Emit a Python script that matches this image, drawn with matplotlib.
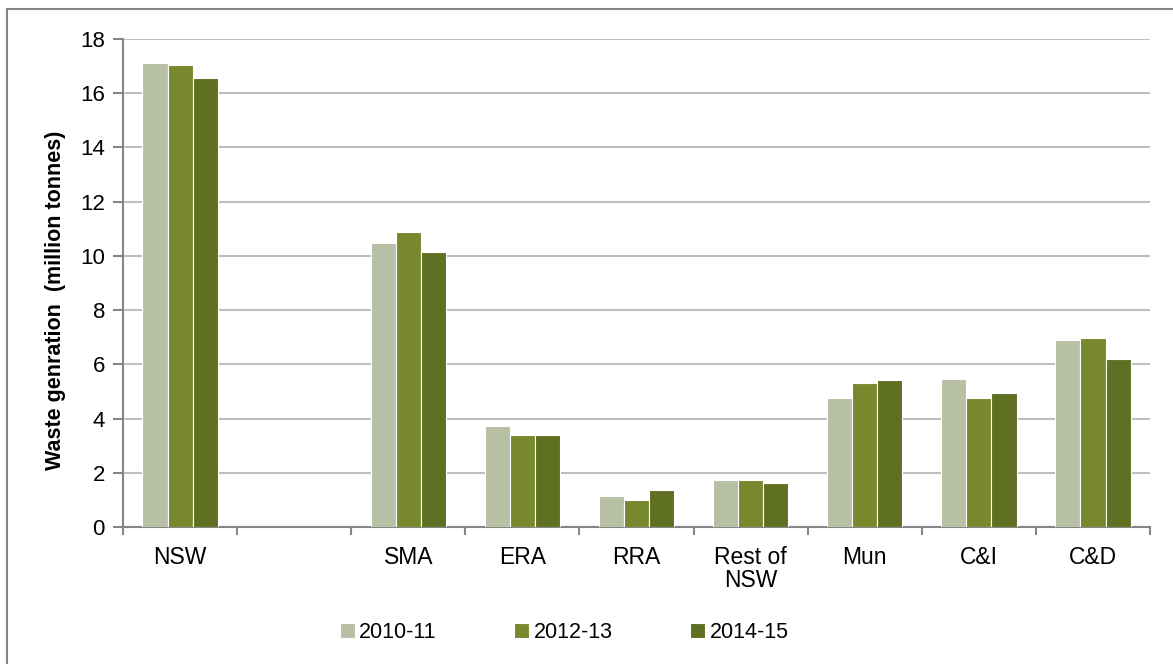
import numpy as np
import matplotlib.pyplot as plt
from matplotlib.patches import Rectangle

plt.rcParams['font.family'] = ['Liberation Sans', 'DejaVu Sans']

# waste generation by region / stream, million tonnes
categories = ['NSW', '', 'SMA', 'ERA', 'RRA', 'Rest of\nNSW', 'Mun', 'C&I', 'C&D']
years = ['2010-11', '2012-13', '2014-15']
gen_2010_11 = [17.10, np.nan, 10.46, 3.73, 1.14, 1.73, 4.75, 5.45, 6.90]
gen_2012_13 = [17.04, np.nan, 10.88, 3.39, 0.98, 1.75, 5.31, 4.75, 6.98]
gen_2014_15 = [16.55, np.nan, 10.16, 3.38, 1.35, 1.62, 5.41, 4.94, 6.19]
colors = ['#B7BFA4', '#77892C', '#607022']

fig = plt.figure(figsize=(11.73, 6.64), dpi=100)
ax = fig.add_axes([0.1049, 0.2063, 0.8755, 0.735])

x = np.arange(len(categories))
w = 0.22
for i, (vals, c, lab) in enumerate(zip([gen_2010_11, gen_2012_13, gen_2014_15], colors, years)):
    ax.bar(x + (i - 1) * w, vals, width=w, color=c, edgecolor='white',
           linewidth=0.8, label=lab, zorder=3)

ax.set_xlim(-0.5, len(categories) - 0.5)
ax.set_ylim(0, 18)
ax.set_yticks(np.arange(0, 19, 2))
ax.grid(axis='y', color='#BFBFBF', linewidth=1.5, zorder=0)

# labels at centres, tick marks at the category boundaries
ax.set_xticks(x)
ax.set_xticklabels(categories, fontsize=16.5, linespacing=0.95)
ax.set_xticks(np.arange(-0.5, len(categories)), minor=True)
ax.tick_params(axis='x', which='major', length=0, pad=14)
ax.tick_params(axis='x', which='minor', length=6, color='#868686', width=1.5)
ax.tick_params(axis='y', length=7, color='#868686', width=1.5, labelsize=16, pad=6)

for s in ['top', 'right']:
    ax.spines[s].set_visible(False)
for s in ['left', 'bottom']:
    ax.spines[s].set_color('#868686')
    ax.spines[s].set_linewidth(1.5)

ax.set_ylabel('Waste genration  (million tonnes)', fontsize=15.5, fontweight='bold')
ax.yaxis.set_label_coords(-0.056, 0.465)

fig.legend(loc='center', bbox_to_anchor=(0.481, 0.047), ncol=3, frameon=False,
           fontsize=15.5, handlelength=0.7, handleheight=0.7, handletextpad=0.2,
           columnspacing=3.6)

# outer chart frame (only left and top edges fall inside the image)
fig.patches.append(Rectangle((7 / 1173, -0.1), 1.2, (664 - 9) / 664 + 0.1,
                             transform=fig.transFigure, fill=False,
                             edgecolor='#868686', linewidth=1.5, clip_on=False))

fig.savefig('out.png', dpi=100)
